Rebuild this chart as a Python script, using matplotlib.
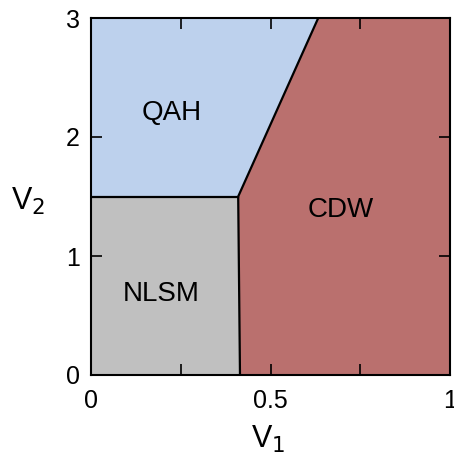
import matplotlib.pyplot as plt

plt.rcParams['font.family'] = ['Liberation Sans', 'DejaVu Sans']

# phase boundaries (V1, V2)
kink = (0.41, 1.5)
v1_bottom = 0.415
v1_top = 0.633
v1_max, v2_max = 1.0, 3.0

phases = ['QAH', 'CDW', 'NLSM']
phase_pos = [(0.226, 2.20), (0.696, 1.39), (0.195, 0.68)]
colors = {'QAH': '#bdd1ed', 'CDW': '#ba706e', 'NLSM': '#c0c0c0'}

xticks = [0, 0.25, 0.5, 0.75, 1]
xticklabels = ['0', '', '0.5', '', '1']
yticks = [0, 1, 2, 3]

fig = plt.figure(figsize=(4.54, 4.55), dpi=100)
ax = fig.add_axes([91/454, 1 - 375/455, 359/454, 357/455])

ax.fill([0, v1_bottom, kink[0], 0], [0, 0, kink[1], kink[1]], color=colors['NLSM'], lw=0)
ax.fill([0, kink[0], v1_top, 0], [kink[1], kink[1], v2_max, v2_max], color=colors['QAH'], lw=0)
ax.fill([v1_bottom, v1_max, v1_max, v1_top, kink[0]], [0, 0, v2_max, v2_max, kink[1]],
        color=colors['CDW'], lw=0)

ax.plot([0, kink[0]], [kink[1], kink[1]], color='black', lw=1.6)
ax.plot([v1_bottom, kink[0], v1_top], [0, kink[1], v2_max], color='black', lw=1.6)

for name, (x, y) in zip(phases, phase_pos):
    ax.text(x, y, name, fontsize=20, ha='center', va='center')

ax.set_xlim(0, v1_max); ax.set_ylim(0, v2_max)
ax.set_xticks(xticks); ax.set_xticklabels(xticklabels)
ax.set_yticks(yticks)
ax.tick_params(direction='in', length=8, width=1.2, top=True, right=True, labelsize=18)
ax.tick_params(axis='x', pad=10)
ax.tick_params(axis='y', pad=8)
for s in ax.spines.values():
    s.set_linewidth(1.5)
ax.set_xlabel('V$_1$', fontsize=22, va='center')
ax.set_ylabel('V$_2$', fontsize=22, rotation=0, va='center', ha='center')
ax.xaxis.set_label_coords(0.493, -0.18)
ax.yaxis.set_label_coords(-0.175, 0.485)

fig.savefig('out.png', dpi=100)
